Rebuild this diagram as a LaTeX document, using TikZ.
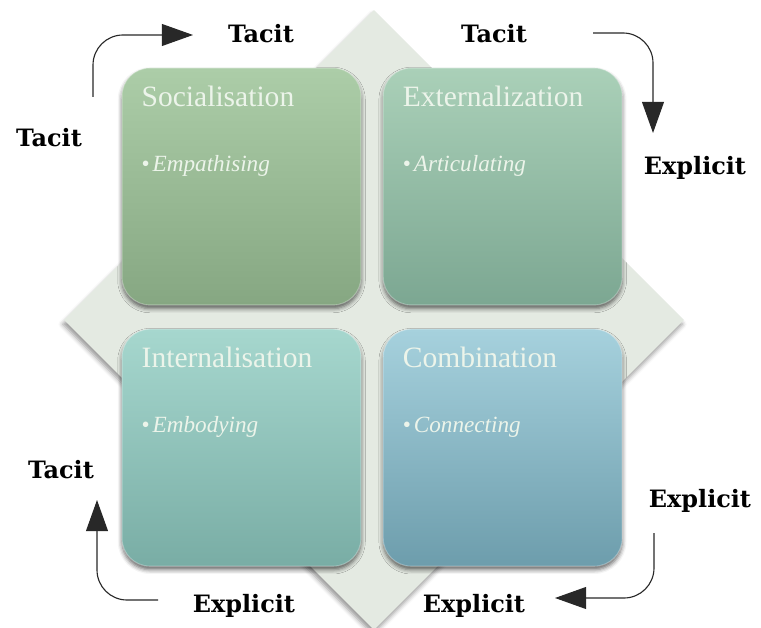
\documentclass[tikz,border=0pt]{standalone}
\usepackage{fontspec}
\setmainfont{Liberation Serif}
\newfontfamily\modefont{DejaVu Serif}
\usetikzlibrary{shapes.geometric, arrows.meta, positioning, shadows.blur}

\definecolor{planecol}{RGB}{228,234,226}
\definecolor{soctop}{RGB}{172,205,168}
\definecolor{socbot}{RGB}{134,167,130}
\definecolor{exttop}{RGB}{170,208,184}
\definecolor{extbot}{RGB}{124,167,146}
\definecolor{inttop}{RGB}{166,215,206}
\definecolor{intbot}{RGB}{121,173,165}
\definecolor{comtop}{RGB}{166,209,221}
\definecolor{combot}{RGB}{109,157,172}
\definecolor{paletext}{RGB}{236,244,234}
\definecolor{arrowcol}{RGB}{40,40,40}

\begin{document}
\begin{tikzpicture}[
  x=0.025cm, y=-0.025cm,
  node distance=0.575cm and 0.525cm,
  plane/.style={diamond, aspect=1, minimum width=15.5cm, minimum height=15.5cm, inner sep=0pt, fill=planecol,
    blur shadow={shadow xshift=-1pt, shadow yshift=-3pt, shadow blur radius=3pt, shadow opacity=40}},
  quad/.style={rounded corners=0.7cm, minimum width=5.975cm, minimum height=5.925cm, inner sep=0pt,
    draw=white, draw opacity=0.3, line width=0.8pt,
    blur shadow={shadow xshift=0pt, shadow yshift=-2.5pt, shadow blur radius=3pt, shadow opacity=60}},
  title/.style={font=\fontsize{21}{24}\selectfont, text=paletext, inner sep=0pt},
  point/.style={font=\fontsize{16.5}{19}\selectfont, text=paletext, inner sep=0pt},
  mode/.style={font=\modefont\bfseries\fontsize{17}{19}\selectfont, inner sep=0pt, anchor=base},
  curvearrow/.style={draw=arrowcol, line width=0.8pt, rounded corners=0.75cm,
    -{Triangle[length=0.78cm, width=0.55cm]}}
]
  \useasboundingbox (0,0) rectangle (761,628);

  % background diamond
  \node[plane] (back) at (374,320) {};

  % the four quadrants
  \node[quad, top color=soctop, bottom color=socbot] (soc) at (241.5,186.5) {};
  \node[quad, top color=exttop, bottom color=extbot, right=of soc] (ext) {};
  \node[quad, top color=inttop, bottom color=intbot, below=of soc] (int) {};
  \node[quad, top color=comtop, bottom color=combot, below=of ext] (com) {};

  \node[title, below right=0.975cm and 0.5cm of soc.north west, anchor=base west] (socT) {Socialisation};
  \node[point, below right=2.6cm and 0.5cm of soc.north west, anchor=base west] (socP) {\textbullet\hspace{2pt}\textit{Empathising}};
  \node[title, below right=0.975cm and 0.5cm of ext.north west, anchor=base west] (extT) {Externalization};
  \node[point, below right=2.6cm and 0.5cm of ext.north west, anchor=base west] (extP) {\textbullet\hspace{2pt}\textit{Articulating}};
  \node[title, below right=0.975cm and 0.5cm of int.north west, anchor=base west] (intT) {Internalisation};
  \node[point, below right=2.6cm and 0.5cm of int.north west, anchor=base west] (intP) {\textbullet\hspace{2pt}\textit{Embodying}};
  \node[title, below right=0.975cm and 0.5cm of com.north west, anchor=base west] (comT) {Combination};
  \node[point, below right=2.6cm and 0.5cm of com.north west, anchor=base west] (comP) {\textbullet\hspace{2pt}\textit{Connecting}};

  % knowledge modes round the edge
  \node[mode] (tacitTop) at (261,43) {Tacit};
  \node[mode] (tacitTopR) at (494,43) {Tacit};
  \node[mode] (tacitLeft) at (49,147) {Tacit};
  \node[mode] (explRight) at (695,175) {Explicit};
  \node[mode] (explRightL) at (700,507) {Explicit};
  \node[mode] (explBotR) at (474,612) {Explicit};
  \node[mode] (explBotL) at (244,612) {Explicit};
  \node[mode] (tacitLeftL) at (61,478) {Tacit};

  % arrow ends
  \coordinate (s1) at (93,97);
  \coordinate (e1) at (193,35);
  \coordinate (s2) at (593,33);
  \coordinate (e2) at (653,133);
  \coordinate (s3) at (654,533);
  \coordinate (e3) at (555,598);
  \coordinate (s4) at (158,600);
  \coordinate (e4) at (97,500);

  \draw[curvearrow] (s1) |- (e1);
  \draw[curvearrow] (s2) -| (e2);
  \draw[curvearrow] (s3) |- (e3);
  \draw[curvearrow] (s4) -| (e4);
\end{tikzpicture}
\end{document}
